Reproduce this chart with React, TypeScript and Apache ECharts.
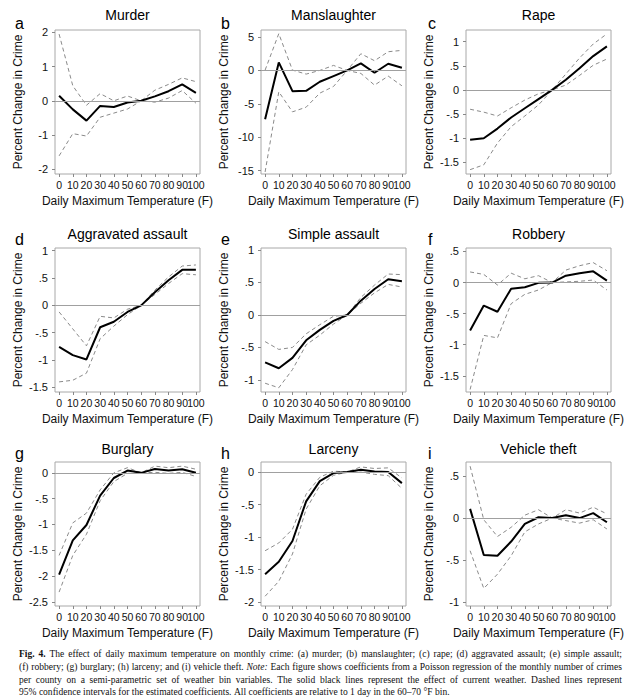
import React, { useEffect, useRef } from 'react';
import * as echarts from 'echarts';

// ---------- data ----------
const TEMPS = [0, 10, 20, 30, 40, 50, 60, 70, 80, 90, 100];

const PANEL_LETTERS = ['a', 'b', 'c', 'd', 'e', 'f', 'g', 'h', 'i'];
const PANEL_TITLES = ['Murder', 'Manslaughter', 'Rape', 'Aggravated assault', 'Simple assault', 'Robbery', 'Burglary', 'Larceny', 'Vehicle theft'];
const Y_TITLE = 'Percent Change in Crime';
const X_TITLE = 'Daily Maximum Temperature (F)';

const murderEst = [0.15, -0.25, -0.58, -0.15, -0.18, -0.05, 0, 0.13, 0.28, 0.48, 0.23];
const murderHi = [1.95, 0.44, -0.13, 0.21, 0.0, 0.14, 0, 0.31, 0.48, 0.67, 0.56];
const murderLo = [-1.61, -0.96, -1.03, -0.48, -0.36, -0.24, 0, -0.04, 0.08, 0.3, -0.07];

const manslEst = [-7.3, 1.2, -3.1, -3.05, -1.7, -0.85, 0, 1.05, -0.35, 1.0, 0.4];
const manslHi = [0.05, 5.5, 0.05, -0.55, 0.0, 0.75, 0, 2.5, 1.45, 2.8, 3.0];
const manslLo = [-15.2, -3.2, -6.2, -5.5, -3.4, -2.4, 0, -0.45, -2.2, -0.85, -2.3];

const rapeEst = [-1.03, -1.0, -0.8, -0.57, -0.38, -0.19, 0, 0.21, 0.45, 0.7, 0.9];
const rapeHi = [-0.4, -0.46, -0.54, -0.37, -0.21, -0.08, 0, 0.33, 0.66, 0.95, 1.16];
const rapeLo = [-1.65, -1.55, -1.1, -0.76, -0.54, -0.31, 0, 0.1, 0.3, 0.51, 0.64];

const aggEst = [-0.76, -0.91, -0.99, -0.4, -0.3, -0.12, 0, 0.24, 0.46, 0.65, 0.65];
const aggHi = [-0.12, -0.43, -0.74, -0.2, -0.23, -0.07, 0, 0.28, 0.52, 0.72, 0.74];
const aggLo = [-1.4, -1.37, -1.24, -0.61, -0.38, -0.17, 0, 0.2, 0.4, 0.58, 0.56];

const simpleEst = [-0.73, -0.82, -0.66, -0.39, -0.23, -0.09, 0, 0.22, 0.4, 0.55, 0.52];
const simpleHi = [-0.41, -0.53, -0.5, -0.29, -0.15, -0.02, 0, 0.27, 0.46, 0.63, 0.62];
const simpleLo = [-1.05, -1.12, -0.84, -0.46, -0.31, -0.14, 0, 0.18, 0.34, 0.47, 0.43];

const robberyEst = [-0.77, -0.37, -0.47, -0.1, -0.075, -0.005, 0, 0.11, 0.15, 0.18, 0.03];
const robberyHi = [0.17, 0.13, -0.04, 0.15, 0.06, 0.11, 0, 0.2, 0.27, 0.32, 0.19];
const robberyLo = [-1.72, -0.85, -0.89, -0.34, -0.19, -0.12, 0, 0.01, 0.02, 0.04, -0.12];

const burglaryEst = [-1.97, -1.31, -1.01, -0.44, -0.1, 0.045, 0, 0.075, 0.045, 0.07, 0.0];
const burglaryHi = [-1.6, -0.97, -0.78, -0.33, 0.0, 0.1, 0, 0.13, 0.1, 0.13, 0.07];
const burglaryLo = [-2.31, -1.6, -1.19, -0.54, -0.17, -0.01, 0, 0.01, -0.01, 0.01, -0.07];

const larcenyEst = [-1.57, -1.38, -1.06, -0.45, -0.14, -0.015, 0, 0.035, 0.01, 0.0, -0.17];
const larcenyHi = [-1.21, -1.09, -0.88, -0.34, -0.08, 0.015, 0, 0.08, 0.055, 0.065, -0.09];
const larcenyLo = [-1.91, -1.68, -1.26, -0.57, -0.21, -0.05, 0, 0.0, -0.035, -0.055, -0.25];

const vehicleEst = [0.11, -0.44, -0.45, -0.28, -0.07, 0.01, 0, 0.035, 0.0, 0.06, -0.05];
const vehicleHi = [0.62, -0.02, -0.22, -0.11, 0.035, 0.1, 0, 0.1, 0.06, 0.13, 0.05];
const vehicleLo = [-0.39, -0.84, -0.67, -0.45, -0.165, -0.07, 0, -0.03, -0.06, -0.02, -0.13];

const murderTicks = [-2, -1, 0, 1, 2];
const manslTicks = [-15, -10, -5, 0, 5];
const rapeTicks = [-1.5, -1, -0.5, 0, 0.5, 1];
const aggTicks = [-1.5, -1, -0.5, 0, 0.5, 1];
const simpleTicks = [-1, -0.5, 0, 0.5, 1];
const robberyTicks = [-1.5, -1, -0.5, 0, 0.5];
const burglaryTicks = [-2.5, -2, -1.5, -1, -0.5, 0];
const larcenyTicks = [-2, -1.5, -1, -0.5, 0];
const vehicleTicks = [-1, -0.5, 0, 0.5];

const CAPTION_LINES = [
  'Fig. 4. The effect of daily maximum temperature on monthly crime: (a) murder; (b) manslaughter; (c) rape; (d) aggravated assault; (e) simple assault;',
  '(f) robbery; (g) burglary; (h) larceny; and (i) vehicle theft. Note: Each figure shows coefficients from a Poisson regression of the monthly number of crimes',
  'per county on a semi-parametric set of weather bin variables. The solid black lines represent the effect of current weather. Dashed lines represent',
  '95% confidence intervals for the estimated coefficients. All coefficients are relative to 1 day in the 60\u201370 \u00b0F bin.',
];

const PANELS = [
  { est: murderEst, hi: murderHi, lo: murderLo, ticks: murderTicks, range: [-2.14, 2.07] },
  { est: manslEst, hi: manslHi, lo: manslLo, ticks: manslTicks, range: [-15.5, 6.05] },
  { est: rapeEst, hi: rapeHi, lo: rapeLo, ticks: rapeTicks, range: [-1.74, 1.24] },
  { est: aggEst, hi: aggHi, lo: aggLo, ticks: aggTicks, range: [-1.585, 1.05] },
  { est: simpleEst, hi: simpleHi, lo: simpleLo, ticks: simpleTicks, range: [-1.185, 1.03] },
  { est: robberyEst, hi: robberyHi, lo: robberyLo, ticks: robberyTicks, range: [-1.76, 0.555] },
  { est: burglaryEst, hi: burglaryHi, lo: burglaryLo, ticks: burglaryTicks, range: [-2.58, 0.21] },
  { est: larcenyEst, hi: larcenyHi, lo: larcenyLo, ticks: larcenyTicks, range: [-2.06, 0.155] },
  { est: vehicleEst, hi: vehicleHi, lo: vehicleLo, ticks: vehicleTicks, range: [-1.05, 0.67] },
];

// ---------- layout / style ----------
const COL_LEFT = [55, 261, 466];
const ROW_TOP = [30, 248, 462];
const BOX_W = 145;
const BOX_H = 144;
const TITLE_Y = [15, 234, 449];
const LETTER_X = [15, 221, 428];
const LETTER_Y = [23, 239, 453];
const SANS = '"Liberation Sans", Arial, sans-serif';
const SERIF = '"Liberation Serif", "Times New Roman", serif';
const FRAME = '#a8a8a8';
const X_LABEL_SIZE = 10.5;

const fmt = (v: number) => {
  const s = String(Math.round(v * 1000) / 1000);
  return s.replace(/^(-?)0\./, '$1.');
};

function buildCaption(): any[] {
  const left = 19;
  const right = 622;
  const target = right - left;
  const lineY = [653, 666, 679, 691.5];
  const size = 9.8;
  const canvas = document.createElement('canvas');
  const ctx = canvas.getContext('2d')!;
  const fontFor = (bold: boolean, italic: boolean) =>
    `${italic ? 'italic ' : ''}${bold ? 'bold ' : ''}${size}px ${SERIF}`;
  const wordsOf = (li: number) =>
    CAPTION_LINES[li].split(' ').map((w, wi) => ({
      w,
      bold: li === 0 && wi < 2,
      italic: li === 1 && w === 'Note:',
    }));
  const measure = (li: number) => {
    const ws = wordsOf(li);
    const widths = ws.map((o) => {
      ctx.font = fontFor(o.bold, o.italic);
      return ctx.measureText(o.w).width;
    });
    ctx.font = fontFor(false, false);
    const spaceW = ctx.measureText(' ').width;
    return { ws, widths, spaceW };
  };
  let maxNat = 0;
  for (let li = 0; li < 3; li++) {
    const m = measure(li);
    const nat = m.widths.reduce((a, b) => a + b, 0) + (m.ws.length - 1) * m.spaceW;
    maxNat = Math.max(maxNat, nat);
  }
  const sx = Math.min(1, (target * 0.985) / maxNat);
  const out: any[] = [];
  CAPTION_LINES.forEach((_, li) => {
    const { ws, widths, spaceW } = measure(li);
    const sw = widths.map((w) => w * sx);
    const sum = sw.reduce((a, b) => a + b, 0);
    const gap = li < 3 ? (target - sum) / (ws.length - 1) : spaceW * sx;
    let x = left;
    ws.forEach((o, wi) => {
      out.push({
        type: 'text',
        x,
        y: lineY[li],
        scaleX: sx,
        silent: true,
        style: {
          text: o.w,
          fontFamily: SERIF,
          fontSize: size,
          fontWeight: o.bold ? 'bold' : 'normal',
          fontStyle: o.italic ? 'italic' : 'normal',
          fill: '#111',
          textAlign: 'left',
          textVerticalAlign: 'middle',
        },
      });
      x += sw[wi] + gap;
    });
  });
  return out;
}

export default function App() {
  const ref = useRef<HTMLDivElement>(null);
  useEffect(() => {
    const chart = echarts.init(ref.current!, null, { renderer: 'svg' });
    const grid: any[] = [];
    const xAxis: any[] = [];
    const yAxis: any[] = [];
    const series: any[] = [];
    const graphic: any[] = [];
    const labelsMain = TEMPS.slice(0, -1);
    const labelsLast = TEMPS.slice(-1);

    PANELS.forEach((p, i) => {
      const col = i % 3;
      const row = Math.floor(i / 3);
      grid.push({
        left: COL_LEFT[col],
        top: ROW_TOP[row],
        width: BOX_W,
        height: BOX_H,
        show: true,
        borderColor: FRAME,
        borderWidth: 1,
        backgroundColor: 'transparent',
      });
      const xLabelBase = {
        margin: 5,
        fontFamily: SANS,
        fontSize: X_LABEL_SIZE,
        color: '#111',
        formatter: fmt,
        hideOverlap: false,
      };
      // main x axis: ticks at every bin, labels 0..90
      xAxis.push({
        type: 'value',
        gridIndex: i,
        position: 'bottom',
        min: -3,
        max: 103,
        name: X_TITLE,
        nameLocation: 'middle',
        nameGap: 21,
        nameTextStyle: { fontFamily: SANS, fontSize: 12, color: '#111' },
        axisLine: { show: false, onZero: false },
        axisTick: { show: true, customValues: TEMPS, length: 3, lineStyle: { color: '#888' } },
        axisLabel: { ...xLabelBase, customValues: labelsMain, showMinLabel: true, showMaxLabel: true },
        splitLine: { show: false },
      });
      // companion x axis that carries only the last label (100)
      xAxis.push({
        type: 'value',
        gridIndex: i,
        position: 'bottom',
        offset: 0,
        min: -3,
        max: 103,
        axisLine: { show: false, onZero: false },
        axisTick: { show: false },
        axisLabel: { ...xLabelBase, customValues: labelsLast, showMinLabel: true, showMaxLabel: true },
        splitLine: { show: false },
      });
      yAxis.push({
        type: 'value',
        gridIndex: i,
        min: p.range[0],
        max: p.range[1],
        name: Y_TITLE,
        nameLocation: 'middle',
        nameGap: 31,
        nameTextStyle: { fontFamily: SANS, fontSize: 12, color: '#111' },
        axisLine: { show: false, onZero: false },
        axisTick: { show: true, customValues: p.ticks, length: 3, lineStyle: { color: '#888' } },
        axisLabel: {
          customValues: p.ticks,
          margin: 7,
          fontFamily: SANS,
          fontSize: 11,
          color: '#111',
          formatter: fmt,
          showMinLabel: true,
          showMaxLabel: true,
        },
        splitLine: { show: false },
      });
      const toPts = (arr: number[]) => TEMPS.map((t, k) => [t, arr[k]]);
      const dashed = {
        color: '#8a8a8a',
        width: 1,
        type: [4, 3],
      };
      const xi = i * 2;
      series.push({
        type: 'line',
        xAxisIndex: xi,
        yAxisIndex: i,
        data: toPts(p.lo),
        symbol: 'none',
        silent: true,
        lineStyle: dashed,
        markLine: {
          silent: true,
          symbol: 'none',
          label: { show: false },
          lineStyle: { color: '#a0a0a0', width: 1, type: 'solid' },
          data: [{ yAxis: 0 }],
        },
        z: 2,
      });
      series.push({
        type: 'line',
        xAxisIndex: xi,
        yAxisIndex: i,
        data: toPts(p.hi),
        symbol: 'none',
        silent: true,
        lineStyle: dashed,
        z: 2,
      });
      series.push({
        type: 'line',
        xAxisIndex: xi,
        yAxisIndex: i,
        data: toPts(p.est),
        symbol: 'none',
        silent: true,
        lineStyle: { color: '#000', width: 2 },
        z: 3,
      });
      graphic.push({
        type: 'text',
        x: COL_LEFT[col] + BOX_W / 2,
        y: TITLE_Y[row],
        silent: true,
        style: {
          text: PANEL_TITLES[i],
          fontFamily: SANS,
          fontSize: 14,
          fill: '#000',
          textAlign: 'center',
          textVerticalAlign: 'middle',
        },
      });
      graphic.push({
        type: 'text',
        x: LETTER_X[col],
        y: LETTER_Y[row],
        silent: true,
        style: {
          text: PANEL_LETTERS[i],
          fontFamily: SANS,
          fontSize: 16,
          fill: '#000',
          textAlign: 'left',
          textVerticalAlign: 'middle',
        },
      });
    });

    graphic.push(...buildCaption());

    chart.setOption({
      animation: false,
      backgroundColor: '#fff',
      grid,
      xAxis,
      yAxis,
      series,
      graphic,
    });
    return () => chart.dispose();
  }, []);

  return (
    <div
      ref={ref}
      style={{ position: 'absolute', left: 0, top: 0, width: 630, height: 697 }}
    />
  );
}
